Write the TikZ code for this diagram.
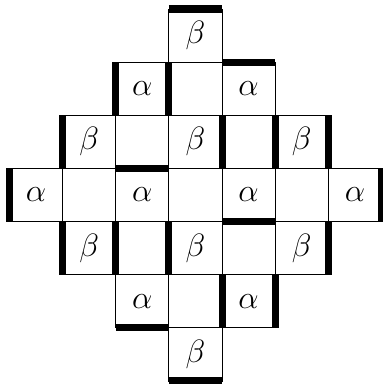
\documentclass[tikz,border=0pt]{standalone}
\begin{document}
\begin{tikzpicture}[x=1cm,y=1cm,
  cell/.style={draw, line width=0.5pt, minimum size=1cm, inner sep=0pt, outer sep=0pt, font=\fontsize{16}{18}\selectfont},
  wall/.style={line width=3.8pt, line cap=butt}]
\useasboundingbox (-0.178,-0.056) rectangle (7.019,7.169);
\foreach \r/\c/\t in {0/3/\beta,
  1/2/\alpha, 1/3/{}, 1/4/\alpha,
  2/1/\beta, 2/2/{}, 2/3/\beta, 2/4/{}, 2/5/\beta,
  3/0/\alpha, 3/1/{}, 3/2/\alpha, 3/3/{}, 3/4/\alpha, 3/5/{}, 3/6/\alpha,
  4/1/\beta, 4/2/{}, 4/3/\beta, 4/4/{}, 4/5/\beta,
  5/2/\alpha, 5/3/{}, 5/4/\alpha,
  6/3/\beta}
  \node[cell] (n\r\c) at (\c+0.5,6.5-\r) {$\t$};
% north walls
\foreach \n in {n03,n14}
  \draw[wall] (\n.north west) -- (\n.north east);
% south walls
\foreach \n in {n22,n34,n52,n63}
  \draw[wall] (\n.south west) -- (\n.south east);
% west walls
\foreach \n in {n12,n13,n21,n24,n25,n30,n41,n42,n43,n54}
  \draw[wall] (\n.north west) -- (\n.south west);
% east walls
\foreach \n in {n25,n36,n45,n54}
  \draw[wall] (\n.north east) -- (\n.south east);
\end{tikzpicture}
\end{document}
